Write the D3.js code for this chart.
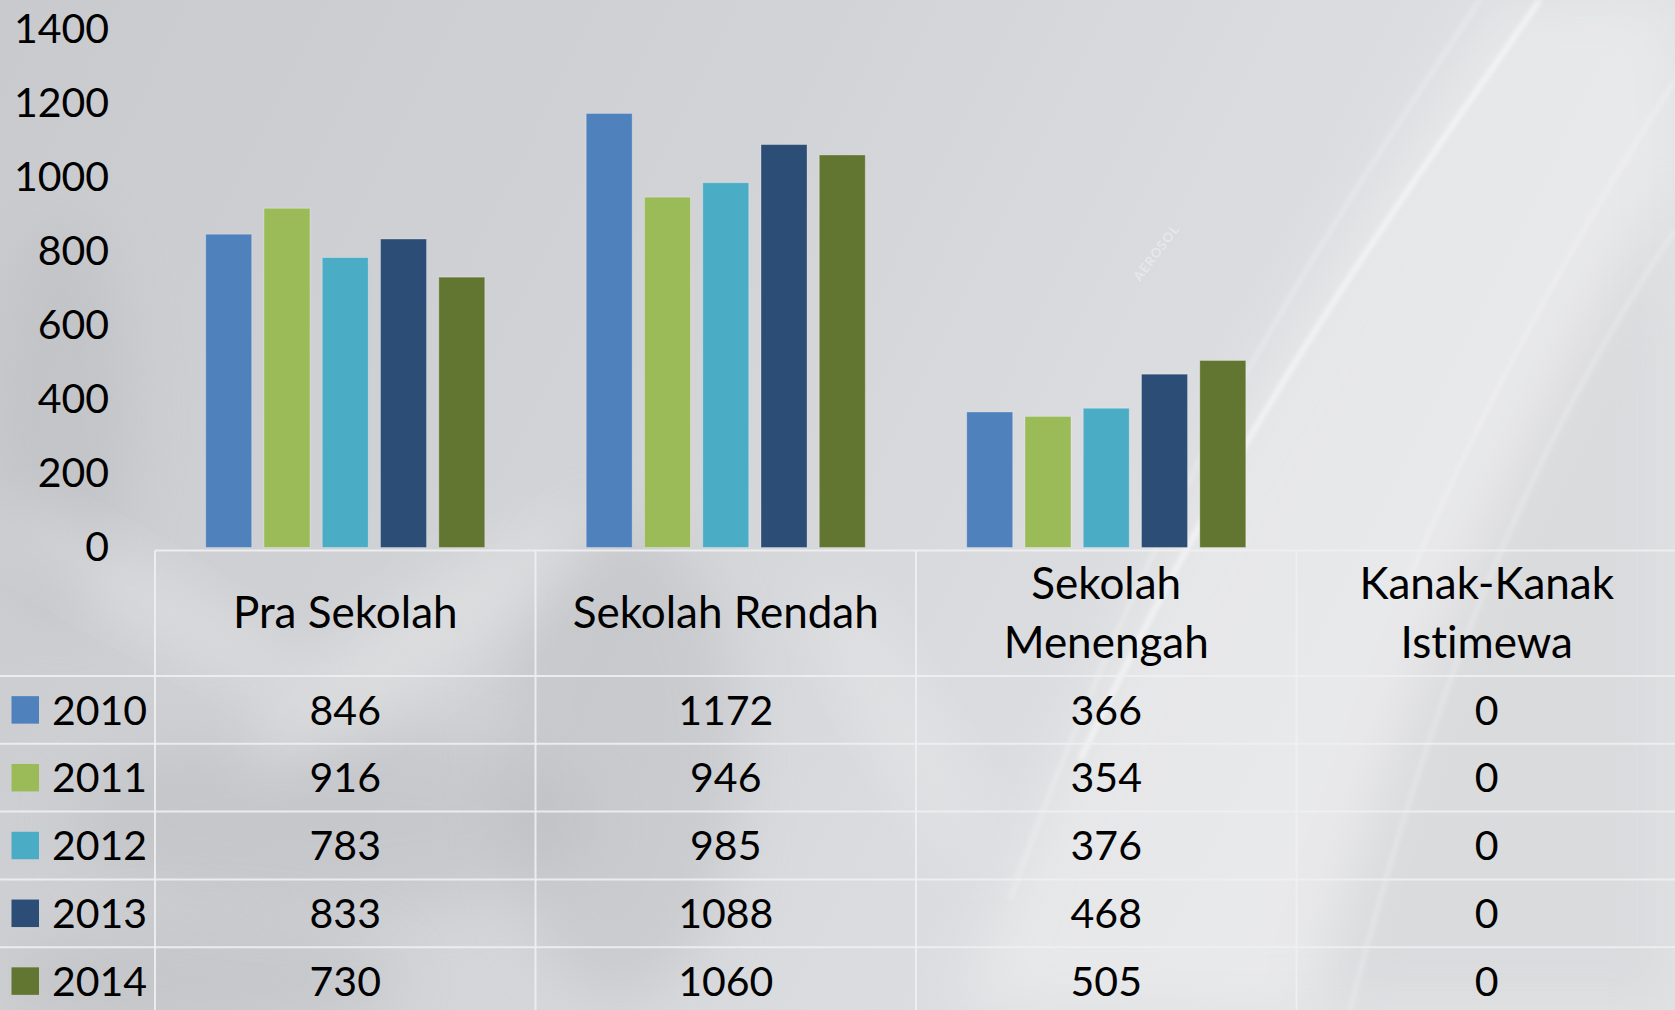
<!DOCTYPE html>
<html>
<head>
<meta charset="utf-8">
<script src="https://cdn.jsdelivr.net/npm/d3@7"></script>
<style>
    body { margin: 0; overflow: hidden; background: #d2d3d6; }
    svg { display: block; font-variant-ligatures: none; font-feature-settings: "liga" 0, "clig" 0; }
</style>
</head>
<body>
<div id="chart"></div>
<script>
// Data
const categories = ["Pra Sekolah", "Sekolah Rendah", "Sekolah Menengah", "Kanak-Kanak Istimewa"];
const headerLines = [["Pra Sekolah"], ["Sekolah Rendah"], ["Sekolah", "Menengah"], ["Kanak-Kanak", "Istimewa"]];
const years = ["2010", "2011", "2012", "2013", "2014"];
const values2010 = [846, 1172, 366, 0];
const values2011 = [916, 946, 354, 0];
const values2012 = [783, 985, 376, 0];
const values2013 = [833, 1088, 468, 0];
const values2014 = [730, 1060, 505, 0];
const yTicks = [0, 200, 400, 600, 800, 1000, 1200, 1400];
const colors = ["#4f81bd", "#9bbb59", "#4bacc6", "#2c4d75", "#627632"];

function draw() {
    const series = [values2010, values2011, values2012, values2013, values2014];

    let dimensions = {
        width: 1675,
        height: 1010,
        axisX: 109,
        plotLeft: 155,
        plotRight: 1677,
        baseline: 547.5,
        top: 29,
        tableTop: 550.5,
        headerHeight: 125.5,
        rowHeight: 67.8
    };

    const font = "Lato, 'Open Sans', sans-serif";
    const fontSize = 41;
    const headerFontSize = 44;

    const svg = d3.select("#chart")
        .append("svg")
        .attr("width", dimensions.width)
        .attr("height", dimensions.height)
        .style("font-family", font);

    // Background
    const defs = svg.append("defs");
    const bg = defs.append("linearGradient")
        .attr("id", "bg")
        .attr("x1", "0").attr("y1", "0").attr("x2", "1").attr("y2", "0.3");
    bg.append("stop").attr("offset", "0").attr("stop-color", "#c9cace");
    bg.append("stop").attr("offset", "0.45").attr("stop-color", "#d2d3d6");
    bg.append("stop").attr("offset", "0.7").attr("stop-color", "#dadbde");
    bg.append("stop").attr("offset", "1").attr("stop-color", "#e1e2e4");

    defs.append("filter").attr("id", "blurBig")
        .attr("x", "-50%").attr("y", "-50%").attr("width", "200%").attr("height", "200%")
        .append("feGaussianBlur").attr("stdDeviation", 28);
    defs.append("filter").attr("id", "blurSmall")
        .attr("x", "-50%").attr("y", "-50%").attr("width", "200%").attr("height", "200%")
        .append("feGaussianBlur").attr("stdDeviation", 2.5);

    svg.append("rect")
        .attr("width", dimensions.width)
        .attr("height", dimensions.height)
        .attr("fill", "url(#bg)");

    const deco = svg.append("g");
    deco.append("path")
        .attr("d", "M1500,0 C1330,260 1130,560 960,1010 L1675,1010 L1675,0 Z")
        .attr("fill", "#f4f4f5")
        .attr("opacity", 0.45)
        .attr("filter", "url(#blurBig)");
    deco.append("path")
        .attr("d", "M1675,180 C1520,420 1400,700 1310,1010 L1675,1010 Z")
        .attr("fill", "#c8c9cc")
        .attr("opacity", 0.45)
        .attr("filter", "url(#blurBig)");
    [
        "M1540,0 C1380,230 1240,420 1080,760",
        "M1480,0 C1320,240 1160,480 1010,900",
        "M1675,230 C1540,430 1440,660 1350,1010",
        "M1675,80 C1560,260 1470,430 1400,600"
    ].forEach((d, i) => {
        deco.append("path")
            .attr("d", d)
            .attr("fill", "none")
            .attr("stroke", "#ffffff")
            .attr("stroke-width", i === 0 ? 4 : 2.5)
            .attr("opacity", i === 0 ? 0.75 : 0.45)
            .attr("filter", "url(#blurSmall)");
    });
    // soft darker shapes on the left
    [[60, 420, 70, 200], [330, 820, 260, 90], [620, 760, 120, 240], [200, 980, 200, 60]].forEach(e => {
        deco.append("ellipse")
            .attr("cx", e[0]).attr("cy", e[1]).attr("rx", e[2]).attr("ry", e[3])
            .attr("fill", "#b4b5b9")
            .attr("opacity", 0.35)
            .attr("filter", "url(#blurBig)");
    });
    [[420, 640, 220, 40, -35], [900, 720, 160, 30, 60], [150, 600, 180, 30, 30]].forEach(e => {
        deco.append("ellipse")
            .attr("cx", e[0]).attr("cy", e[1]).attr("rx", e[2]).attr("ry", e[3])
            .attr("transform", `rotate(${e[4]}, ${e[0]}, ${e[1]})`)
            .attr("fill", "#eeeeef")
            .attr("opacity", 0.4)
            .attr("filter", "url(#blurBig)");
    });
    deco.append("text")
        .attr("transform", "translate(1140, 282) rotate(-53)")
        .attr("fill", "#ffffff")
        .attr("opacity", 0.35)
        .attr("font-size", 13)
        .attr("font-weight", "bold")
        .attr("letter-spacing", 1)
        .text("AEROSOL");

    // Scales
    const x0Scale = d3.scaleBand()
        .domain(categories)
        .range([dimensions.plotLeft, dimensions.plotRight]);

    const x1Scale = d3.scaleBand()
        .domain(years)
        .range([0, x0Scale.bandwidth()])
        .paddingInner(0.21)
        .paddingOuter(0.87);

    const yScale = d3.scaleLinear()
        .domain([0, 1400])
        .range([dimensions.baseline, dimensions.top]);

    // Bars
    const groups = svg.append("g")
        .selectAll("g")
        .data(categories)
        .join("g")
            .attr("transform", d => `translate(${x0Scale(d)}, 0)`);

    groups.selectAll("rect")
        .data((d, ci) => years.map((yr, si) => ({ year: yr, value: series[si][ci], color: colors[si] })))
        .join("rect")
            .attr("x", d => x1Scale(d.year))
            .attr("width", x1Scale.bandwidth())
            .attr("y", d => yScale(d.value))
            .attr("height", d => yScale(0) - yScale(d.value))
            .attr("fill", d => d.color)
            .attr("stroke", "rgba(255,255,255,0.3)")
            .attr("stroke-width", 1);

    // Y axis
    const yAxis = d3.axisLeft(yScale)
        .tickValues(yTicks)
        .tickFormat(d3.format("d"))
        .tickSize(0)
        .tickPadding(0);

    const yAxisGroup = svg.append("g")
        .attr("transform", `translate(${dimensions.axisX}, 0)`)
        .call(yAxis);
    yAxisGroup.select(".domain").remove();
    yAxisGroup.selectAll("text")
        .attr("font-family", font)
        .attr("font-size", fontSize)
        .attr("fill", "#000");

    // Data table
    const table = svg.append("g");
    const gridColor = "rgba(238,239,241,0.9)";
    const headerBottom = dimensions.tableTop + dimensions.headerHeight;
    const rowTop = i => headerBottom + i * dimensions.rowHeight;
    const tableBottom = rowTop(years.length);

    table.append("line")
        .attr("x1", dimensions.plotLeft).attr("x2", dimensions.width)
        .attr("y1", dimensions.tableTop).attr("y2", dimensions.tableTop)
        .attr("stroke", gridColor).attr("stroke-width", 2);

    table.selectAll(".hline")
        .data(d3.range(years.length + 1))
        .join("line")
            .attr("class", "hline")
            .attr("x1", 0).attr("x2", dimensions.width)
            .attr("y1", d => rowTop(d)).attr("y2", d => rowTop(d))
            .attr("stroke", gridColor).attr("stroke-width", 2);

    table.selectAll(".vline")
        .data(categories)
        .join("line")
            .attr("class", "vline")
            .attr("x1", d => x0Scale(d)).attr("x2", d => x0Scale(d))
            .attr("y1", dimensions.tableTop).attr("y2", tableBottom)
            .attr("stroke", gridColor).attr("stroke-width", 2);

    // Header labels
    const headerMid = dimensions.tableTop + dimensions.headerHeight / 2;
    table.selectAll(".header")
        .data(categories)
        .join("text")
            .attr("class", "header")
            .attr("x", d => x0Scale(d) + x0Scale.bandwidth() / 2)
            .attr("text-anchor", "middle")
            .attr("font-size", headerFontSize)
            .attr("fill", "#000")
            .each(function(d, i) {
                const lines = headerLines[i];
                const lineGap = 59;
                const firstBaseline = headerMid + 15 - (lines.length - 1) * lineGap / 2;
                d3.select(this).selectAll("tspan")
                    .data(lines)
                    .join("tspan")
                        .attr("x", x0Scale(d) + x0Scale.bandwidth() / 2)
                        .attr("y", (l, li) => firstBaseline + li * lineGap)
                        .text(l => l);
            });

    // Rows
    const rows = table.selectAll(".row")
        .data(years)
        .join("g")
            .attr("class", "row")
            .attr("transform", (d, i) => `translate(0, ${rowTop(i)})`);

    const swatch = 27.5;
    rows.append("rect")
        .attr("x", 11.5)
        .attr("y", dimensions.rowHeight / 2 - swatch / 2)
        .attr("width", swatch)
        .attr("height", swatch)
        .attr("fill", (d, i) => colors[i]);

    rows.append("text")
        .attr("x", 52)
        .attr("y", dimensions.rowHeight / 2 + 14.8)
        .attr("font-size", fontSize)
        .attr("fill", "#000")
        .text(d => d);

    rows.selectAll(".cell")
        .data((d, si) => categories.map((c, ci) => ({ cat: c, value: series[si][ci] })))
        .join("text")
            .attr("class", "cell")
            .attr("x", d => x0Scale(d.cat) + x0Scale.bandwidth() / 2)
            .attr("y", dimensions.rowHeight / 2 + 14.8)
            .attr("text-anchor", "middle")
            .attr("font-size", fontSize)
            .attr("fill", "#000")
            .text(d => d.value);
}

draw();
</script>
</body>
</html>
